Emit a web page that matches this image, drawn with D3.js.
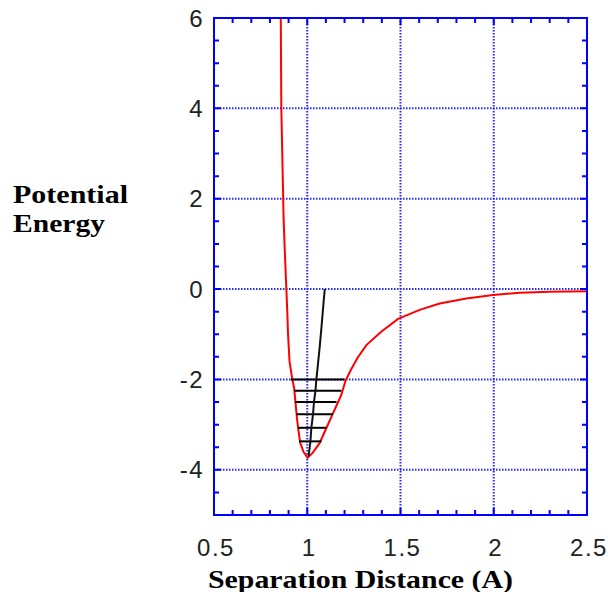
<!DOCTYPE html>
<html>
<head>
<meta charset="utf-8">
<script src="https://cdn.jsdelivr.net/npm/d3@7"></script>
<style>
body { margin: 0; background: #fff; }
.ticklabel { font-family: "Liberation Sans", Arial, sans-serif; font-size: 24px; fill: #222; letter-spacing: 1.5px; }
.axistitle { font-family: "Liberation Serif", "DejaVu Serif", serif; font-weight: bold; font-size: 25px; fill: #000; }
</style>
</head>
<body>
<div id="vis"></div>
<script>
var w = 608;
var h = 592;
var plotLeft = 214;
var plotTop = 18;
var plotRight = 587;
var plotBottom = 515;

// potential energy curve (red)
var curveR = [0.858, 0.861, 0.867, 0.873, 0.879, 0.886, 0.893, 0.897, 0.905, 0.918, 0.930, 0.939, 0.946, 0.952, 0.962, 0.980, 1.002,
	1.030, 1.066, 1.102, 1.138, 1.182, 1.205, 1.235, 1.270, 1.317, 1.398, 1.487, 1.603, 1.710, 1.853, 1.996, 2.140, 2.300, 2.500];
var curveE = [6.0, 4.0, 2.8, 1.6, 0.9, 0.2, -0.5, -1.0, -1.6, -1.95, -2.2, -2.6, -2.9, -3.1, -3.4, -3.6, -3.73,
	-3.62, -3.41, -3.08, -2.75, -2.35, -2.03, -1.78, -1.52, -1.24, -0.94, -0.66, -0.46, -0.32, -0.21, -0.13, -0.08, -0.06, -0.05];

// vibrational levels (black)
var levelE = [-2.0, -2.25, -2.5, -2.77, -3.07, -3.37];
var levelLeft = [0.912, 0.932, 0.934, 0.942, 0.950, 0.956];
var levelRight = [1.200, 1.183, 1.157, 1.138, 1.102, 1.076];

// line through the level midpoints
var centerR = [1.007, 1.017, 1.022, 1.031, 1.036, 1.044, 1.049, 1.058, 1.067, 1.076, 1.088, 1.094];
var centerE = [-3.70, -3.37, -3.07, -2.77, -2.5, -2.25, -2.0, -1.64, -1.27, -0.86, -0.27, 0.0];

var xTicks = [0.5, 1, 1.5, 2, 2.5];
var xTickLabels = ["0.5", "1", "1.5", "2", "2.5"];
var yTicks = [-4, -2, 0, 2, 4, 6];
var yTickLabels = ["-4", "-2", "0", "2", "4", "6"];
var xGrid = [1, 1.5, 2];
var yGrid = [-4, -2, 0, 2, 4];

var x = d3.scaleLinear().domain([0.5, 2.5]).range([plotLeft, plotRight]);
var y = d3.scaleLinear().domain([-5, 6]).range([plotBottom, plotTop]);

var svg = d3.select("#vis")
	.append("svg")
	.attr("width", w)
	.attr("height", h);

svg.append("defs").append("clipPath")
	.attr("id", "plotclip")
	.append("rect")
	.attr("x", plotLeft)
	.attr("y", plotTop)
	.attr("width", plotRight - plotLeft)
	.attr("height", plotBottom - plotTop);

//gridlines, dotted
svg.selectAll(".xgrid")
	.data(xGrid)
	.enter()
	.append("line")
	.attr("class", "xgrid")
	.attr("x1", function(d) { return x(d); })
	.attr("x2", function(d) { return x(d); })
	.attr("y1", plotTop)
	.attr("y2", plotBottom)
	.attr("stroke", "#2828ff")
	.attr("stroke-width", 2)
	.attr("stroke-dasharray", "1.5,1.5");

svg.selectAll(".ygrid")
	.data(yGrid)
	.enter()
	.append("line")
	.attr("class", "ygrid")
	.attr("x1", plotLeft)
	.attr("x2", plotRight)
	.attr("y1", function(d) { return y(d); })
	.attr("y2", function(d) { return y(d); })
	.attr("stroke", "#2828ff")
	.attr("stroke-width", 2)
	.attr("stroke-dasharray", "1.5,1.5");

var plot = svg.append("g").attr("clip-path", "url(#plotclip)");

//red curve
var curvePts = curveR.map(function(r, i) { return [r, curveE[i]]; });
var line = d3.line()
	.x(function(d) { return x(d[0]); })
	.y(function(d) { return y(d[1]); });

plot.append("path")
	.datum(curvePts)
	.attr("d", line)
	.attr("fill", "none")
	.attr("stroke", "#f00")
	.attr("stroke-width", 2);

//levels
plot.selectAll(".level")
	.data(levelE)
	.enter()
	.append("line")
	.attr("class", "level")
	.attr("x1", function(d, i) { return x(levelLeft[i]); })
	.attr("x2", function(d, i) { return x(levelRight[i]); })
	.attr("y1", function(d) { return y(d); })
	.attr("y2", function(d) { return y(d); })
	.attr("stroke", "#000")
	.attr("stroke-width", 2);

var centerPts = centerR.map(function(r, i) { return [r, centerE[i]]; });
plot.append("path")
	.datum(centerPts)
	.attr("d", line)
	.attr("fill", "none")
	.attr("stroke", "#111")
	.attr("stroke-width", 2);

//ticks on all four sides
var xMinor = d3.range(6, 25).map(function(d) { return d / 10; }).filter(function(d) { return xGrid.indexOf(d) < 0; });
var yMinor = d3.range(-9, 12).map(function(d) { return d / 2; }).filter(function(d) { return yGrid.indexOf(d) < 0; });

function tickLines(cls, data, len, horiz) {
	svg.selectAll("." + cls)
		.data(data)
		.enter()
		.append("path")
		.attr("class", cls)
		.attr("d", function(d) {
			if (horiz) {
				return "M" + plotLeft + "," + y(d) + "h" + len + "M" + plotRight + "," + y(d) + "h" + (-len);
			}
			return "M" + x(d) + "," + plotBottom + "v" + (-len) + "M" + x(d) + "," + plotTop + "v" + len;
		})
		.attr("stroke", "#00f")
		.attr("stroke-width", 2)
		.attr("fill", "none");
}
tickLines("xminor", xMinor, 5, false);
tickLines("xmajor", xGrid, 7, false);
tickLines("yminor", yMinor, 5, true);
tickLines("ymajor", yGrid, 7, true);

//frame
svg.append("rect")
	.attr("x", plotLeft)
	.attr("y", plotTop)
	.attr("width", plotRight - plotLeft)
	.attr("height", plotBottom - plotTop)
	.attr("fill", "none")
	.attr("stroke", "#00f")
	.attr("stroke-width", 2);

//tick labels
svg.selectAll(".xlabel")
	.data(xTicks)
	.enter()
	.append("text")
	.attr("class", "ticklabel")
	.attr("x", function(d) { return x(d) + 2; })
	.attr("y", 556)
	.attr("text-anchor", "middle")
	.text(function(d, i) { return xTickLabels[i]; });

svg.selectAll(".ylabel")
	.data(yTicks)
	.enter()
	.append("text")
	.attr("class", "ticklabel")
	.attr("x", 204)
	.attr("y", function(d) { return y(d) + 8.5; })
	.attr("text-anchor", "end")
	.text(function(d, i) { return yTickLabels[i]; });

//axis titles
svg.append("text")
	.attr("class", "axistitle")
	.attr("x", 208)
	.attr("y", 588)
	.attr("textLength", 305)
	.attr("lengthAdjust", "spacingAndGlyphs")
	.text("Separation Distance (A)");

svg.append("text")
	.attr("class", "axistitle")
	.attr("x", 13)
	.attr("y", 203)
	.attr("textLength", 115)
	.attr("lengthAdjust", "spacingAndGlyphs")
	.text("Potential");

svg.append("text")
	.attr("class", "axistitle")
	.attr("x", 13)
	.attr("y", 232)
	.attr("textLength", 92)
	.attr("lengthAdjust", "spacingAndGlyphs")
	.text("Energy");
</script>
</body>
</html>
